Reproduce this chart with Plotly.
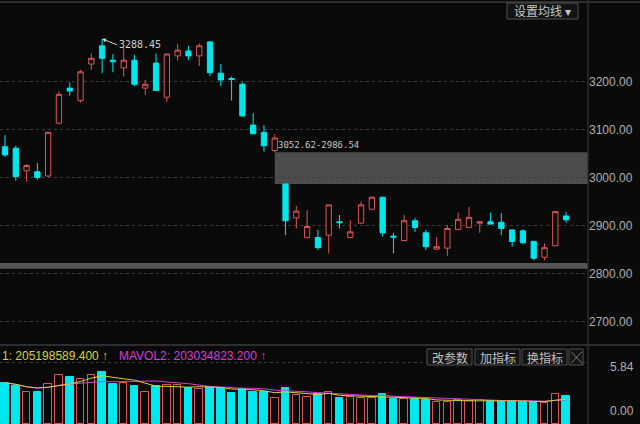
import plotly.graph_objects as go
import pandas as pd

# ---- data ----
opens = [3064, 3061, 3014, 3012, 3003, 3113, 3186, 3160, 3236, 3274,
         3244, 3228, 3244, 3186, 3238, 3167, 3253, 3263, 3253, 3282,
         3217, 3206, 3194, 3109, 3094, 3056, 2986.54, 2916, 2875, 2875,
         2880, 2908, 2875, 2905, 2934, 2959, 2878, 2869, 2910, 2885,
         2851, 2853, 2892, 2896, 2905, 2908, 2907, 2891, 2889, 2867,
         2834, 2858, 2920]
highs = [3088, 3066, 3028, 3030, 3094, 3179, 3198, 3224, 3258, 3288.45,
         3257, 3269, 3255, 3203, 3258, 3258, 3278, 3274, 3279, 3284,
         3236, 3210, 3198, 3134, 3109, 3090, 2986.54, 2941, 2932, 2891,
         2943, 2922, 2912, 2950, 2960, 2960, 2885, 2922, 2916, 2891,
         2876, 2901, 2927, 2939, 2909, 2927, 2926, 2892, 2892, 2868,
         2863, 2930, 2929]
lows = [3043, 2993, 2991, 2995, 3002, 3111, 3170, 3156, 3224, 3217,
        3219, 3210, 3190, 3172, 3180, 3157, 3243, 3244, 3232, 3211,
        3190, 3160, 3127, 3090, 3054, 3052.62, 2880, 2894, 2874, 2849,
        2842, 2894, 2874, 2904, 2933, 2877, 2842, 2868, 2887, 2849,
        2850, 2837, 2891, 2895, 2885, 2902, 2880, 2856, 2863, 2828,
        2828, 2857, 2906]
closes = [3047, 3002, 3025, 3000, 3094, 3173, 3180, 3220, 3248, 3248,
          3241, 3244, 3194, 3194, 3181, 3257, 3265, 3253, 3274, 3218,
          3203, 3204, 3128, 3091, 3066, 3082, 2910, 2930, 2898, 2854,
          2943, 2906, 2887, 2943, 2959, 2885, 2876, 2910, 2896, 2856,
          2856, 2894, 2913, 2917, 2908, 2903, 2894, 2867, 2864, 2832,
          2854, 2929, 2912]
# volume in 亿
volumes = [3.95, 3.64, 3.09, 3.09, 3.80, 4.69, 4.47, 4.28, 4.69, 4.95,
           3.80, 3.89, 3.67, 3.09, 3.64, 3.73, 3.73, 3.42, 3.32, 3.57,
           3.42, 3.00, 3.32, 3.09, 3.09, 2.46, 3.42, 2.78, 2.61, 2.84,
           3.03, 2.46, 2.56, 2.52, 2.52, 2.84, 2.36, 2.36, 2.36, 2.30,
           2.13, 2.13, 2.30, 2.23, 2.30, 2.20, 2.20, 2.20, 2.13, 2.13,
           2.04, 2.87, 2.68]
price_ticks = [2700, 2800, 2900, 3000, 3100, 3200]
price_tick_text = ["2700.00", "2800.00", "2900.00", "3000.00", "3100.00", "3200.00"]
gap_top, gap_bottom = 3052.62, 2986.54
band2_top, band2_bottom = 2822, 2810
vol_top_label = 5.84
mavol1_text = "1: 205198589.400 ↑"
mavol2_text = "MAVOL2: 203034823.200 ↑"
peak_label = "3288.45"
buttons = ["改参数", "加指标", "换指标", "╳"]

# ---- styles ----
BG = "#0a0a0a"
RED = "#e05555"
TEAL = "#00e8ee"
GRID = "#3c3c3c"
AXT = "#b0b0b0"
YEL = "#d4d436"
MAG = "#d83cd8"

n = len(opens)
xs = list(range(n))
up = [c >= o for o, c in zip(opens, closes)]

vol = pd.Series(volumes)
ma5 = vol.rolling(5, min_periods=1).mean()
ma10 = vol.rolling(10, min_periods=1).mean()

fig = go.Figure()

fig.add_trace(go.Candlestick(
    x=xs, open=opens, high=highs, low=lows, close=closes,
    increasing=dict(line=dict(color=RED, width=1), fillcolor=BG),
    decreasing=dict(line=dict(color=TEAL, width=1), fillcolor=TEAL),
    whiskerwidth=0, xaxis="x", yaxis="y", showlegend=False, hoverinfo="skip"))

vol_colors_fill = [BG if u else TEAL for u in up]
vol_colors_line = [RED if u else TEAL for u in up]
fig.add_trace(go.Bar(
    x=xs, y=volumes, width=0.7, marker=dict(color=vol_colors_fill,
    line=dict(color=vol_colors_line, width=1)),
    xaxis="x2", yaxis="y2", showlegend=False, hoverinfo="skip"))
fig.add_trace(go.Scatter(x=xs, y=ma10, mode="lines", line=dict(color=MAG, width=1),
                         xaxis="x2", yaxis="y2", showlegend=False, hoverinfo="skip"))
fig.add_trace(go.Scatter(x=xs, y=ma5, mode="lines", line=dict(color=YEL, width=1),
                         xaxis="x2", yaxis="y2", showlegend=False, hoverinfo="skip"))

W, H = 640, 424
plot_right = 588
xdom = [0, plot_right / W]
pxu = 10.79
x0 = -5 / pxu
xrange = [x0, x0 + plot_right / pxu]

split = (H - 345) / H

fig.update_layout(
    width=W, height=H, margin=dict(l=0, r=0, t=0, b=0, autoexpand=False),
    paper_bgcolor=BG, plot_bgcolor=BG,
    font=dict(family="Liberation Sans, Arial", color=AXT, size=12),
    xaxis=dict(domain=xdom, range=xrange, showgrid=False, zeroline=False,
               showticklabels=False, rangeslider=dict(visible=False), anchor="y"),
    yaxis=dict(domain=[split, 1], range=[2651.5, 3369.3], side="right",
               tickvals=price_ticks, ticktext=price_tick_text,
               showgrid=True, gridcolor=GRID, griddash="dot", gridwidth=1,
               zeroline=False, tickfont=dict(size=12, color=AXT), anchor="x"),
    xaxis2=dict(domain=xdom, range=xrange, showgrid=False, zeroline=False,
                showticklabels=False, anchor="y2"),
    yaxis2=dict(domain=[0, split], range=[0, 79 / 10.45], side="right",
                tickvals=[vol_top_label], showticklabels=False,
                showgrid=True, gridcolor=GRID, griddash="dot",
                zeroline=False, anchor="x2"),
    bargap=0,
)

shapes = []
# gap bands
shapes.append(dict(type="rect", xref="x", yref="y", x0=25, x1=xrange[1],
                   y0=gap_bottom, y1=gap_top, fillcolor="#4c4c4c",
                   line=dict(width=0), layer="below"))
shapes.append(dict(type="rect", xref="x domain", yref="y", x0=0, x1=1,
                   y0=band2_bottom, y1=band2_top, fillcolor="#555555",
                   line=dict(width=0), layer="below"))
# frame lines
shapes.append(dict(type="line", xref="paper", yref="paper", x0=plot_right / W, x1=plot_right / W,
                   y0=0, y1=1, line=dict(color="#2e2e2e", width=1.5)))
shapes.append(dict(type="line", xref="paper", yref="paper", x0=0, x1=1,
                   y0=split, y1=split, line=dict(color="#2e2e2e", width=2)))
shapes.append(dict(type="line", xref="paper", yref="paper", x0=0, x1=1,
                   y0=1 - 2 / H, y1=1 - 2 / H, line=dict(color="#2e2e2e", width=2)))

ann = []
ann.append(dict(x=9, y=highs[9], xref="x", yref="y", text=peak_label,
                showarrow=True, arrowhead=2, arrowsize=0.8, arrowwidth=1,
                arrowcolor="#d0d0d0", ax=15, ay=6, xanchor="left", yanchor="middle",
                font=dict(family="DejaVu Sans Mono", size=10, color="#d0d0d0")))
ann.append(dict(x=25, y=gap_top, xref="x", yref="y", text=f"{gap_top:.2f}-{gap_bottom:.2f}",
                showarrow=False, xanchor="left", yanchor="bottom", xshift=1, yshift=0,
                font=dict(family="DejaVu Sans Mono", size=9, color="#c8c8c8")))
# volume header
hy = 1 - 356 / H
ann.append(dict(x=0, y=hy, xref="paper", yref="paper", text=mavol1_text, showarrow=False,
                xanchor="left", yanchor="middle", font=dict(size=12, color=YEL)))
ann.append(dict(x=117 / W, y=hy, xref="paper", yref="paper", text=mavol2_text, showarrow=False,
                xanchor="left", yanchor="middle", font=dict(size=12, color=MAG)))
# volume axis labels
ann.append(dict(x=636 / W, y=1 - 367 / H, xref="paper", yref="paper", text=f"{vol_top_label:.2f}",
                showarrow=False, xanchor="right", yanchor="middle", font=dict(size=12, color=AXT)))
ann.append(dict(x=636 / W, y=1 - 411 / H, xref="paper", yref="paper", text="0.00",
                showarrow=False, xanchor="right", yanchor="middle", font=dict(size=12, color=AXT)))
# buttons
bx = [(427, 472), (475, 520), (522, 567), (569, 583)]
for (a, b), t in zip(bx, buttons):
    shapes.append(dict(type="rect", xref="paper", yref="paper", x0=a / W, x1=b / W,
                       y0=1 - 365 / H, y1=1 - 349 / H, fillcolor="#141414",
                       line=dict(color="#505050", width=1)))
    ann.append(dict(x=(a + b) / 2 / W, y=1 - 357 / H, xref="paper", yref="paper", text=t,
                    showarrow=False, xanchor="center", yanchor="middle",
                    font=dict(family="Noto Sans CJK SC", size=12 if t != "╳" else 11, color="#c0c0c0")))
# 设置均线 button
shapes.append(dict(type="rect", xref="paper", yref="paper", x0=507 / W, x1=578 / W,
                   y0=1 - 19 / H, y1=1 - 3 / H, fillcolor="#141414",
                   line=dict(color="#505050", width=1)))
ann.append(dict(x=542 / W, y=1 - 11 / H, xref="paper", yref="paper", text="设置均线 ▾",
                showarrow=False, xanchor="center", yanchor="middle",
                font=dict(family="Noto Sans CJK SC", size=12, color="#c8c8c8")))
fig.update_layout(shapes=shapes, annotations=ann)

fig.write_html("out.html", config={"displayModeBar": False},
               post_script="document.body.style.margin='0';document.body.style.overflow='hidden';")
